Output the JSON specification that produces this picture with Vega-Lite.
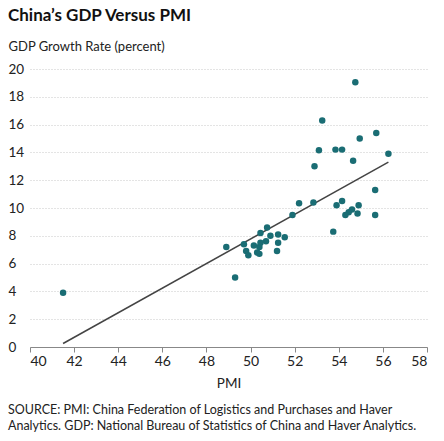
{
  "$schema": "https://vega.github.io/schema/vega-lite/v6.json",
  "padding": {"left": 8, "top": 7, "right": 10, "bottom": 5},
  "config": {
    "font": "Lato",
    "view": {"stroke": null},
    "concat": {"spacing": 0}
  },
  "title": {
    "text": [
      "SOURCE: PMI: China Federation of Logistics and Purchases and Haver",
      "Analytics. GDP: National Bureau of Statistics of China and Haver Analytics."
    ],
    "orient": "bottom",
    "anchor": "start",
    "frame": "bounds",
    "fontSize": 12.5,
    "fontWeight": "normal",
    "lineHeight": 16,
    "color": "#222",
    "offset": 14
  },
  "datasets": {
    "obs": [
      {"pmi": 41.5, "gdp": 3.9},
      {"pmi": 49.3, "gdp": 5.0},
      {"pmi": 48.9, "gdp": 7.2},
      {"pmi": 49.7, "gdp": 7.4},
      {"pmi": 49.8, "gdp": 6.9},
      {"pmi": 49.9, "gdp": 6.6},
      {"pmi": 50.15, "gdp": 7.3},
      {"pmi": 50.3, "gdp": 6.8},
      {"pmi": 50.4, "gdp": 6.7},
      {"pmi": 50.4, "gdp": 7.2},
      {"pmi": 50.45, "gdp": 7.5},
      {"pmi": 50.7, "gdp": 7.6},
      {"pmi": 50.45, "gdp": 8.2},
      {"pmi": 50.75, "gdp": 8.6},
      {"pmi": 50.9, "gdp": 8.0},
      {"pmi": 51.25, "gdp": 8.1},
      {"pmi": 51.55, "gdp": 7.9},
      {"pmi": 51.25, "gdp": 7.5},
      {"pmi": 51.2, "gdp": 6.9},
      {"pmi": 51.9, "gdp": 9.5},
      {"pmi": 52.2, "gdp": 10.35},
      {"pmi": 52.85, "gdp": 10.4},
      {"pmi": 53.75, "gdp": 8.3},
      {"pmi": 53.9, "gdp": 10.2},
      {"pmi": 54.15, "gdp": 10.5},
      {"pmi": 54.9, "gdp": 10.2},
      {"pmi": 54.6, "gdp": 9.9},
      {"pmi": 54.45, "gdp": 9.7},
      {"pmi": 54.3, "gdp": 9.5},
      {"pmi": 54.85, "gdp": 9.6},
      {"pmi": 55.65, "gdp": 9.5},
      {"pmi": 55.65, "gdp": 11.3},
      {"pmi": 52.9, "gdp": 13.0},
      {"pmi": 53.1, "gdp": 14.15},
      {"pmi": 53.85, "gdp": 14.2},
      {"pmi": 54.15, "gdp": 14.2},
      {"pmi": 54.65, "gdp": 13.4},
      {"pmi": 56.25, "gdp": 13.9},
      {"pmi": 54.95, "gdp": 15.0},
      {"pmi": 55.7, "gdp": 15.4},
      {"pmi": 53.25, "gdp": 16.3},
      {"pmi": 54.75, "gdp": 19.05}
    ],
    "fit": [
      {"pmi": 41.5, "gdp": 0.25},
      {"pmi": 56.25, "gdp": 13.3}
    ]
  },
  "vconcat": [
    {
      "title": {
        "text": "China’s GDP Versus PMI",
        "anchor": "start",
        "frame": "bounds",
        "fontSize": 17,
        "fontWeight": "bold",
        "color": "#111",
        "offset": 15
      },
      "width": 397,
      "height": 278,
      "encoding": {
        "x": {
          "field": "pmi",
          "type": "quantitative",
          "scale": {"domain": [40, 58], "nice": false, "zero": false},
          "axis": {
            "title": "PMI",
            "values": [40, 42, 44, 46, 48, 50, 52, 54, 56, 58],
            "labelOverlap": false,
            "grid": false,
            "domainColor": "#888",
            "tickColor": "#888",
            "tickSize": 5,
            "labelFontSize": 14,
            "labelColor": "#222",
            "labelPadding": 2,
            "titleFontSize": 13.5,
            "titleFontWeight": "normal",
            "titleColor": "#222",
            "titlePadding": 8
          }
        },
        "y": {
          "field": "gdp",
          "type": "quantitative",
          "scale": {"domain": [0, 20], "nice": false},
          "axis": {
            "title": "GDP Growth Rate (percent)",
            "values": [0, 2, 4, 6, 8, 10, 12, 14, 16, 18, 20],
            "labelOverlap": false,
            "domain": false,
            "ticks": false,
            "tickSize": 0,
            "labelAlign": "left",
            "labelBaseline": "middle",
            "labelPadding": 22,
            "labelFontSize": 13.5,
            "labelColor": "#222",
            "gridColor": "#c8c8c8",
            "gridDash": [1, 2],
            "titleAngle": 0,
            "titleAlign": "left",
            "titleBaseline": "alphabetic",
            "titleX": -22,
            "titleY": -19,
            "titleFontSize": 13,
            "titleFontWeight": "normal",
            "titleColor": "#222"
          }
        }
      },
      "layer": [
        {
          "data": {"name": "fit"},
          "mark": {"type": "line", "color": "#444", "strokeWidth": 1.5}
        },
        {
          "data": {"name": "obs"},
          "mark": {"type": "circle", "size": 42, "color": "#1a6d74", "opacity": 1}
        }
      ]
    }
  ]
}
